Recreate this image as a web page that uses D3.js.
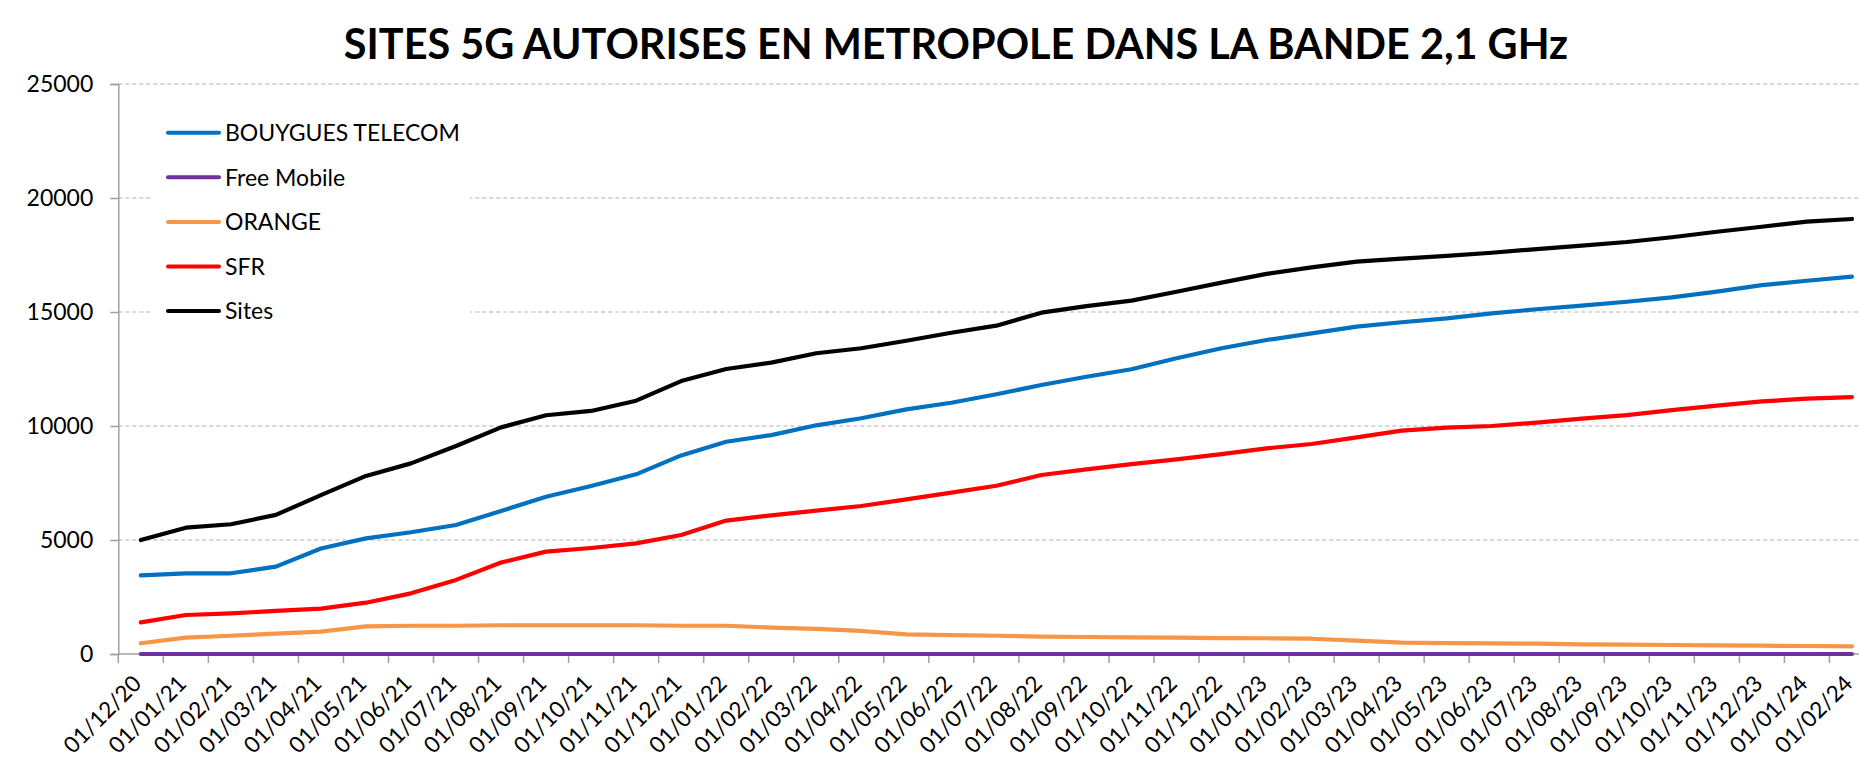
<!DOCTYPE html>
<html>
<head>
<meta charset="utf-8">
<script src="https://cdn.jsdelivr.net/npm/d3@7.9.0/dist/d3.min.js"></script>
<style>
  body { margin: 0; background: #fff; }
  svg { display: block; font-family: Lato, "Open Sans", sans-serif; }
</style>
</head>
<body>
<svg id="chart" width="1859" height="761"></svg>
<script>
// month labels (x categories)
const months = [
  '01/12/20', '01/01/21', '01/02/21', '01/03/21', '01/04/21', '01/05/21', '01/06/21',
  '01/07/21', '01/08/21', '01/09/21', '01/10/21', '01/11/21', '01/12/21', '01/01/22',
  '01/02/22', '01/03/22', '01/04/22', '01/05/22', '01/06/22', '01/07/22', '01/08/22',
  '01/09/22', '01/10/22', '01/11/22', '01/12/22', '01/01/23', '01/02/23', '01/03/23',
  '01/04/23', '01/05/23', '01/06/23', '01/07/23', '01/08/23', '01/09/23', '01/10/23',
  '01/11/23', '01/12/23', '01/01/24', '01/02/24'
];

const bouygues = [3450, 3540, 3540, 3830, 4630, 5070, 5340, 5660, 6270, 6900,
  7370, 7880, 8710, 9310, 9600, 10030, 10340, 10730, 11020, 11390,
  11800, 12160, 12490, 12970, 13410, 13770, 14060, 14360, 14550, 14720,
  14940, 15120, 15280, 15450, 15640, 15890, 16180, 16370, 16550];

const free = [0, 0, 0, 0, 0, 0, 0, 0, 0, 0, 0, 0, 0, 0, 0, 0, 0, 0, 0, 0,
  0, 0, 0, 0, 0, 0, 0, 0, 0, 0, 0, 0, 0, 0, 0, 0, 0, 0, 0];

const orange = [470, 720, 800, 890, 980, 1210, 1240, 1240, 1260, 1260,
  1260, 1260, 1240, 1240, 1160, 1100, 1010, 860, 830, 800,
  760, 745, 730, 715, 700, 690, 670, 590, 500, 480,
  470, 455, 425, 410, 395, 380, 365, 350, 335];

const sfr = [1390, 1710, 1780, 1890, 1990, 2250, 2660, 3250, 4010, 4490,
  4650, 4850, 5220, 5850, 6080, 6290, 6490, 6780, 7080, 7380,
  7850, 8100, 8330, 8540, 8770, 9020, 9210, 9500, 9800, 9930,
  10000, 10150, 10320, 10480, 10700, 10890, 11080, 11200, 11270];

const sites = [5000, 5540, 5690, 6100, 6970, 7810, 8360, 9120, 9940, 10470,
  10660, 11110, 11970, 12500, 12780, 13190, 13410, 13740, 14090, 14400,
  14970, 15260, 15500, 15890, 16290, 16670, 16960, 17210, 17340, 17460,
  17600, 17760, 17910, 18070, 18280, 18520, 18740, 18960, 19080];

const yTicks = [0, 5000, 10000, 15000, 20000, 25000];

const seriesNames = ['BOUYGUES TELECOM', 'Free Mobile', 'ORANGE', 'SFR', 'Sites'];
const seriesColors = ['#0070c0', '#7030a0', '#f79646', '#ff0000', '#000000'];
const seriesValues = [bouygues, free, orange, sfr, sites];

const svg = d3.select('#chart');

const plotLeft = 118.3, plotTop = 84, plotBottom = 654;
const step = 45.03;

const x = d3.scaleBand().domain(months).range([plotLeft, plotLeft + step * months.length]).padding(0);
const y = d3.scaleLinear().domain([0, 25000]).range([plotBottom, plotTop]);
const cx = (m) => x(m) + x.bandwidth() / 2;

// gridlines
svg.append('g')
  .selectAll('line')
  .data(yTicks.filter((d) => d > 0))
  .join('line')
  .attr('x1', plotLeft).attr('x2', 1859)
  .attr('y1', (d) => y(d)).attr('y2', (d) => y(d))
  .attr('stroke', '#b0b0b0')
  .attr('stroke-width', 1.2)
  .attr('stroke-dasharray', '4,3');

// y axis
let yAxis = svg.append('g')
  .attr('transform', `translate(${plotLeft},0)`)
  .call(d3.axisLeft(y).tickValues(yTicks).tickSize(8).tickPadding(17).tickFormat(d3.format('d')));
yAxis.select('.domain').attr('stroke', '#a0a0a0').attr('stroke-width', 1.5);
yAxis.selectAll('.tick line').attr('stroke', '#a0a0a0').attr('stroke-width', 1.5);
yAxis.selectAll('.tick text')
  .attr('font-family', 'Lato, sans-serif')
  .attr('font-size', 23)
  .attr('fill', '#000');

// x axis line + ticks at category boundaries
svg.append('line')
  .attr('x1', plotLeft).attr('x2', 1859)
  .attr('y1', plotBottom).attr('y2', plotBottom)
  .attr('stroke', '#a0a0a0').attr('stroke-width', 1.5);

svg.append('g')
  .selectAll('line')
  .data(months)
  .join('line')
  .attr('x1', (d) => x(d)).attr('x2', (d) => x(d))
  .attr('y1', plotBottom).attr('y2', plotBottom + 9)
  .attr('stroke', '#a0a0a0').attr('stroke-width', 1.5);

// x labels, rotated, ending under each point
svg.append('g')
  .selectAll('text')
  .data(months)
  .join('text')
  .attr('transform', (d) => `translate(${cx(d) + 2},${plotBottom + 31}) rotate(-45)`)
  .attr('text-anchor', 'end')
  .attr('font-size', 22.5)
  .text((d) => d);

// lines
const line = d3.line()
  .x((d, i) => cx(months[i]))
  .y((d) => y(d));

svg.append('g')
  .selectAll('path')
  .data(seriesValues)
  .join('path')
  .attr('d', (d) => line(d))
  .attr('fill', 'none')
  .attr('stroke', (d, i) => seriesColors[i])
  .attr('stroke-width', 4.2)
  .attr('stroke-linejoin', 'round')
  .attr('stroke-linecap', 'round');

// legend
const legend = svg.append('g');
legend.append('rect')
  .attr('x', 151).attr('y', 100)
  .attr('width', 319).attr('height', 238)
  .attr('fill', '#fff');

const rowY = (i) => 132.7 + i * 44.6;
legend.selectAll('line')
  .data(seriesNames)
  .join('line')
  .attr('x1', 168).attr('x2', 219)
  .attr('y1', (d, i) => rowY(i)).attr('y2', (d, i) => rowY(i))
  .attr('stroke', (d, i) => seriesColors[i])
  .attr('stroke-width', 4)
  .attr('stroke-linecap', 'round');

legend.selectAll('text')
  .data(seriesNames)
  .join('text')
  .attr('x', 225)
  .attr('y', (d, i) => rowY(i))
  .attr('dy', '0.36em')
  .attr('font-size', 23)
  .text((d) => d);

// title, fitted to the width it takes in the reference
const title = svg.append('text')
  .attr('x', 956)
  .attr('y', 59)
  .attr('text-anchor', 'middle')
  .attr('font-weight', 'bold')
  .attr('font-size', 42)
  .text('SITES 5G AUTORISES EN METROPOLE DANS LA BANDE 2,1 GHz');
let tw = title.node().getComputedTextLength();
title.attr('font-size', 42 * 1225 / tw);
</script>
</body>
</html>
